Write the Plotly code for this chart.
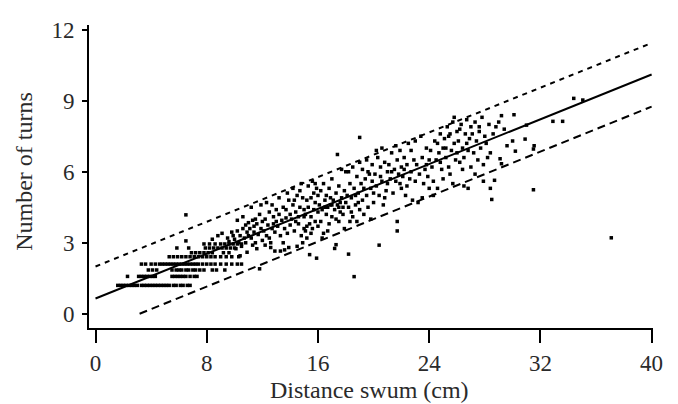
import plotly.graph_objects as go

# ---------------- axis ticks ----------------
x_ticks = [0, 8, 16, 24, 32, 40]
y_ticks = [0, 3, 6, 9, 12]

# ---------------- regression line and prediction band ----------------
fit_x = [0, 40]
fit_y = [0.645, 10.11]
upper_x = [0, 40]
upper_y = [2.0, 11.44]
lower_x = [3.17, 40]
lower_y = [0.0, 8.75]

# ---------------- short swims: values fall on discrete rows ----------------
row_levels = [1.2, 1.58, 1.85, 2.1, 2.41, 2.58, 2.78, 2.95]
row_1 = [1.6, 1.8, 2.0, 2.2, 2.4, 2.6, 2.8, 3.0, 3.3, 3.5, 3.7, 3.9, 4.1, 4.3,
         4.5, 4.7, 4.9, 5.1, 5.3, 5.6, 5.8, 6.1, 6.3, 6.6, 6.8]
row_2 = [2.3, 3.1, 3.3, 3.5, 3.7, 3.9, 4.1, 4.3, 5.5, 5.7, 5.9, 6.1, 6.3, 6.5,
         6.8, 7.1, 7.3]
row_3 = [3.8, 4.1, 4.4, 5.5, 5.8, 6.0, 6.2, 6.5, 6.7, 7.0, 7.2, 7.5, 7.8, 8.4,
         8.7, 9.3]
row_4 = [3.3, 3.6, 4.0, 4.3, 4.6, 4.8, 5.0, 5.2, 5.4, 5.6, 5.8, 6.0, 6.2, 6.4,
         6.6, 6.8, 7.0, 7.2, 7.4, 7.7, 8.0, 8.3, 8.6, 9.0, 9.4, 9.8, 10.2, 10.5]
row_5 = [5.3, 5.6, 5.9, 6.2, 6.5, 6.8, 7.1, 7.4, 7.7, 8.0, 8.3, 8.6, 9.0, 9.4,
         9.8, 10.3]
row_6 = [6.9, 7.2, 7.5, 7.8, 8.1, 8.4, 9.2, 9.6]
row_7 = [5.85, 6.7, 7.9, 8.2, 8.5, 8.8, 9.1, 9.4, 9.7, 10.0]
row_8 = [7.8, 8.2, 8.6, 9.0, 9.3, 9.6, 9.9, 10.2, 10.5]
row_lists = [row_1, row_2, row_3, row_4, row_5, row_6, row_7, row_8]

# ---------------- scattered swims (distance, turns) ----------------
pts_10_13 = [
    (6.5, 4.18), (6.5, 3.08), (8.4, 3.15), (8.8, 3.3), (9.1, 3.4), (9.5, 3.2),
    (9.8, 3.45), (9.6, 3.05), (9.9, 3.3), (10.0, 3.15), (10.1, 2.75), (10.2, 3.5),
    (10.3, 3.0), (10.4, 3.3), (10.5, 2.85), (10.6, 3.6), (10.7, 3.2), (10.8, 3.0),
    (10.9, 3.45), (11.0, 3.85), (10.2, 3.95), (10.6, 4.1), (10.9, 2.6), (11.0, 3.3),
    (10.4, 2.45), (10.8, 3.75), (11.1, 3.6), (11.2, 3.2), (11.3, 3.95), (11.4, 3.45),
    (11.5, 3.0), (11.6, 3.8), (11.7, 3.35), (11.8, 4.2), (11.9, 3.6), (12.0, 3.1),
    (11.2, 4.5), (11.5, 4.0), (11.8, 1.9), (11.6, 2.75), (12.0, 3.9), (11.3, 2.9),
    (11.9, 4.6), (11.4, 3.7), (12.1, 3.5), (12.2, 4.0), (12.3, 3.3), (12.4, 3.75),
    (12.5, 4.3), (12.6, 3.0), (12.7, 3.6), (12.8, 4.1), (12.9, 3.45), (13.0, 3.9),
    (12.3, 4.7), (12.6, 2.8), (12.9, 2.65), (13.0, 4.4), (12.5, 3.2), (12.8, 3.8),
    (12.2, 2.9), (12.7, 4.6),
]
pts_13_17 = [
    (13.1, 3.7), (13.2, 4.2), (13.3, 3.3), (13.4, 3.95), (13.5, 4.5), (13.6, 3.6),
    (13.7, 4.05), (13.8, 3.4), (13.9, 4.8), (14.0, 4.2), (13.3, 2.65), (13.6, 2.7),
    (13.9, 2.8), (13.2, 4.9), (13.8, 5.1), (14.0, 3.75), (13.5, 3.0), (13.7, 4.4),
    (14.1, 4.0), (14.2, 4.6), (14.3, 3.5), (14.4, 4.3), (14.5, 5.0), (14.6, 3.8),
    (14.7, 4.5), (14.8, 3.3), (14.9, 4.9), (15.0, 4.1), (14.2, 5.3), (14.5, 2.85),
    (14.8, 5.5), (15.0, 3.6), (14.3, 4.8), (14.6, 4.1), (14.9, 3.0), (14.4, 3.9),
    (14.7, 5.2), (15.0, 4.4), (15.1, 3.5), (15.1, 4.2), (15.2, 4.8), (15.2, 3.2),
    (15.3, 4.5), (15.3, 5.4), (15.4, 3.8), (15.4, 2.5), (15.5, 4.9), (15.5, 4.1),
    (15.6, 3.6), (15.6, 5.6), (15.7, 4.4), (15.7, 5.1), (15.8, 3.9), (15.8, 4.7),
    (15.9, 2.35), (15.9, 5.3), (16.0, 4.3), (16.0, 5.0), (15.2, 3.7), (15.5, 3.4),
    (15.8, 5.5), (16.0, 3.7), (16.1, 4.6), (16.2, 5.2), (16.2, 3.9), (16.3, 4.4),
    (16.4, 5.5), (16.4, 3.4), (16.5, 4.8), (16.6, 4.2), (16.6, 5.0), (16.7, 4.5),
    (16.8, 3.8), (16.8, 5.3), (16.9, 4.6), (17.0, 4.1), (17.0, 5.7), (16.3, 3.2),
    (16.7, 3.5), (16.9, 4.9), (16.5, 4.5), (17.0, 4.6),
]
pts_17_21 = [
    (17.1, 4.8), (17.2, 2.76), (17.3, 2.92), (17.2, 4.4), (17.3, 5.1), (17.4, 6.73),
    (17.4, 4.6), (17.5, 3.9), (17.5, 5.4), (17.6, 4.3), (17.7, 4.9), (17.7, 6.1),
    (17.8, 4.5), (17.9, 5.2), (17.9, 3.6), (18.0, 4.7), (18.0, 6.0), (17.6, 4.7),
    (17.8, 4.2), (17.5, 4.5), (17.3, 4.0), (18.1, 5.0), (18.2, 2.52), (18.2, 4.5),
    (18.3, 5.5), (18.3, 3.9), (18.4, 4.9), (18.5, 6.2), (18.5, 4.1), (18.6, 1.57),
    (18.6, 5.3), (18.7, 4.6), (18.8, 5.8), (18.8, 3.9), (18.9, 5.1), (19.0, 4.4),
    (19.0, 7.45), (19.0, 6.4), (18.2, 6.0), (18.7, 5.0), (18.4, 4.3), (18.9, 4.7),
    (19.1, 5.5), (19.2, 4.8), (19.2, 6.1), (19.3, 4.2), (19.4, 5.7), (19.5, 5.0),
    (19.5, 6.5), (19.6, 4.5), (19.7, 5.9), (19.8, 5.3), (19.8, 4.0), (19.9, 6.3),
    (20.0, 5.1), (20.0, 4.7), (19.3, 5.3), (19.6, 6.0), (19.9, 5.6), (20.1, 5.9),
    (20.2, 5.4), (20.3, 6.6), (20.4, 2.9), (20.4, 5.0), (20.5, 6.2), (20.6, 5.6),
    (20.7, 4.6), (20.8, 6.4), (20.9, 5.2), (21.0, 6.0), (20.2, 6.9), (20.6, 7.0),
    (21.0, 5.5), (20.8, 4.9), (20.5, 5.8),
]
pts_21_25 = [
    (21.1, 6.3), (21.2, 5.7), (21.3, 6.8), (21.4, 5.1), (21.5, 6.1), (21.6, 5.6),
    (21.7, 3.5), (21.7, 3.9), (21.7, 6.5), (21.8, 5.9), (21.9, 6.9), (22.0, 6.2),
    (22.0, 5.3), (21.3, 6.0), (21.6, 7.1), (21.9, 5.5), (22.1, 5.8), (22.2, 6.6),
    (22.3, 5.0), (22.4, 6.3), (22.5, 7.2), (22.6, 5.7), (22.7, 6.0), (22.8, 4.8),
    (22.9, 6.5), (23.0, 5.6), (22.4, 5.4), (22.7, 6.9), (23.0, 7.3), (22.2, 6.1),
    (23.1, 6.3), (23.2, 4.7), (23.3, 5.9), (23.4, 7.5), (23.5, 6.6), (23.6, 5.5),
    (23.7, 6.1), (23.8, 7.0), (23.9, 5.8), (24.0, 6.5), (23.5, 4.9), (23.8, 6.3),
    (24.0, 5.3), (24.1, 6.9), (24.2, 6.2), (24.3, 5.6), (24.4, 7.3), (24.5, 6.5),
    (24.6, 5.3), (24.7, 6.8), (24.8, 7.6), (24.9, 6.1), (25.0, 7.0), (24.3, 5.0),
    (24.6, 7.2), (25.0, 5.7), (24.8, 6.4),
]
pts_25_30 = [
    (25.1, 7.4), (25.2, 6.6), (25.3, 7.9), (25.4, 6.2), (25.5, 7.6), (25.6, 6.9),
    (25.7, 8.1), (25.7, 5.5), (25.8, 7.2), (25.9, 6.5), (26.0, 7.7), (25.2, 7.0),
    (25.5, 5.9), (25.8, 8.3), (26.0, 6.8), (25.4, 7.5), (26.1, 7.3), (26.2, 6.4),
    (26.3, 8.0), (26.4, 7.0), (26.5, 6.6), (26.6, 7.6), (26.7, 8.2), (26.8, 6.9),
    (26.9, 7.4), (27.0, 6.2), (26.2, 7.8), (26.5, 5.4), (26.8, 5.3), (27.0, 7.9),
    (26.4, 6.1), (26.7, 7.2), (27.1, 7.6), (27.2, 6.8), (27.3, 8.1), (27.4, 7.3),
    (27.5, 6.5), (27.6, 7.9), (27.7, 7.0), (27.8, 8.3), (27.9, 6.3), (28.0, 7.5),
    (27.3, 5.9), (27.6, 7.7), (27.9, 5.6), (28.1, 7.2), (28.2, 6.6), (28.3, 8.0),
    (28.4, 6.8), (28.4, 5.3), (28.5, 4.83), (28.6, 7.6), (28.7, 5.64), (28.8, 7.9),
    (29.0, 8.1), (29.1, 6.55), (29.2, 6.34), (29.2, 8.37), (29.4, 7.8), (30.0, 7.3),
    (30.1, 8.41), (30.2, 6.87), (29.6, 7.1),
]
pts_long = [
    (30.9, 7.38), (31.0, 7.97), (31.55, 7.1), (31.5, 6.96), (31.5, 5.24),
    (32.9, 8.13), (33.6, 8.13), (34.4, 9.1), (35.05, 9.03), (37.1, 3.21),
]

# ---------------- assemble scatter ----------------
sx, sy = [], []
for level, xs in zip(row_levels, row_lists):
    sx += xs
    sy += [level] * len(xs)
for group in (pts_10_13, pts_13_17, pts_17_21, pts_21_25, pts_25_30, pts_long):
    for px, py in group:
        sx.append(px)
        sy.append(py)

FONT = "Liberation Serif"
TXT = "#2a2a2a"

fig = go.Figure()
fig.add_trace(go.Scatter(x=sx, y=sy, mode="markers",
                         marker=dict(symbol="square", size=3.5, color="black",
                                     line=dict(width=0)),
                         showlegend=False, hoverinfo="skip"))
fig.add_trace(go.Scatter(x=fit_x, y=fit_y, mode="lines",
                         line=dict(color="black", width=2), showlegend=False))
fig.add_trace(go.Scatter(x=upper_x, y=upper_y, mode="lines",
                         line=dict(color="black", width=2, dash="5px,5px"),
                         showlegend=False))
fig.add_trace(go.Scatter(x=lower_x, y=lower_y, mode="lines",
                         line=dict(color="black", width=2, dash="8px,5px"),
                         showlegend=False))

# the page adds an 8px body margin, so the figure is drawn 8px smaller
fig.update_layout(
    width=670, height=396,
    margin=dict(l=81, r=25, t=10, b=76),
    paper_bgcolor="white", plot_bgcolor="white",
    font=dict(family=FONT, color=TXT, size=23),
    xaxis=dict(range=[-0.47, 40.1], tickvals=x_ticks, showgrid=False,
               zeroline=False, showline=True, linecolor="black", linewidth=2,
               ticks="outside", ticklen=13, tickwidth=2, tickcolor="black",
               tickfont=dict(size=23, family=FONT, color=TXT)),
    yaxis=dict(range=[-0.6, 12.2], tickvals=y_ticks, showgrid=False,
               zeroline=False, showline=True, linecolor="black", linewidth=2,
               ticks="outside", ticklen=5, tickwidth=1.5, tickcolor="black",
               ticklabelstandoff=3,
               tickfont=dict(size=23, family=FONT, color=TXT)),
    annotations=[
        dict(text="Distance swum (cm)", xref="paper", yref="paper",
             x=0.498, y=-0.205, xanchor="center", yanchor="middle",
             showarrow=False, font=dict(size=24, family=FONT, color=TXT)),
        dict(text="Number of turns", xref="paper", yref="paper",
             x=-0.115, y=0.516, xanchor="center", yanchor="middle",
             textangle=-90, showarrow=False,
             font=dict(size=24, family=FONT, color=TXT)),
    ],
)

fig.write_html("out.html")
